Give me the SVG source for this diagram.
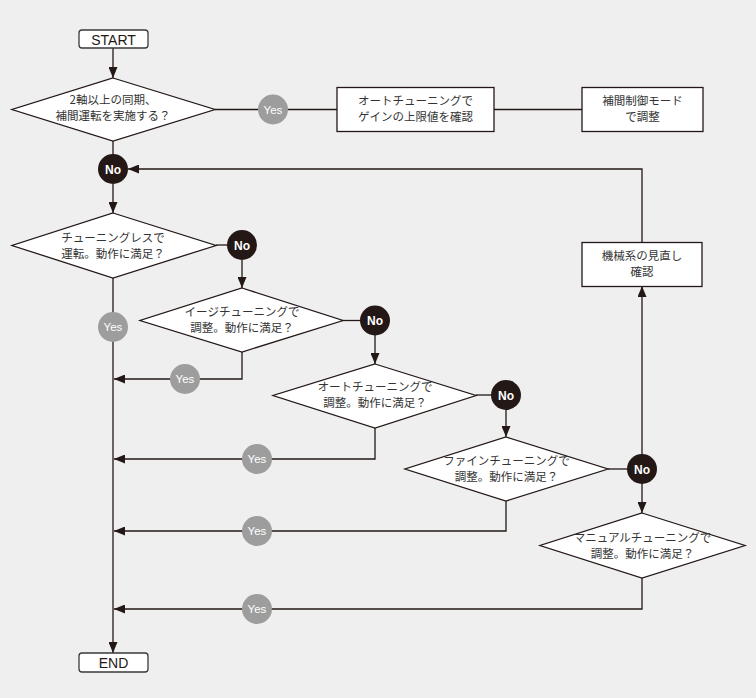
<svg xmlns="http://www.w3.org/2000/svg" width="756" height="698" viewBox="0 0 756 698">
<defs>
<marker id="arr" viewBox="0 0 11 9" refX="11" refY="4.5" markerWidth="11" markerHeight="9" markerUnits="userSpaceOnUse" orient="auto">
<path d="M0 0 L11 4.5 L0 9 Z" fill="#231815"/>
</marker>
<style>
.ln{fill:none;stroke:#231815;stroke-width:1.3}
.shape{fill:#fff;stroke:#231815;stroke-width:1.3}
.term{fill:#fff;stroke:#3a3a3a;stroke-width:1.3}
.t{font-family:"Noto Sans CJK JP","Noto Sans",sans-serif;font-size:11.5px;fill:#333;text-anchor:middle}
.tt{font-family:"Liberation Sans",Arial,sans-serif;font-size:14px;fill:#231815;text-anchor:middle}
.yes{fill:#9d9d9d}
.no{fill:#231815}
.lbl{font-family:"Liberation Sans",Arial,sans-serif;font-size:11.5px;fill:#fff;text-anchor:middle}
.lblb{font-family:"Liberation Sans",Arial,sans-serif;font-size:12px;font-weight:bold;fill:#fff;text-anchor:middle}
</style>
</defs>
<rect width="756" height="698" fill="#efefef"/>
<g id="connectors">
<path class="ln" d="M113 48 V78" marker-end="url(#arr)"/>
<path class="ln" d="M113 141 V155"/>
<path class="ln" d="M113 184 V213" marker-end="url(#arr)"/>
<path class="ln" d="M215 109.5 H337"/>
<path class="ln" d="M494 109.5 H582"/>
<path class="ln" d="M642 242 V169 H128" marker-end="url(#arr)"/>
<path class="ln" d="M216 245 H228"/>
<path class="ln" d="M242 260 V288" marker-end="url(#arr)"/>
<path class="ln" d="M113 278 V653" marker-end="url(#arr)"/>
<path class="ln" d="M242 352 V379 H114" marker-end="url(#arr)"/>
<path class="ln" d="M343 320.5 H361"/>
<path class="ln" d="M375 335 V364" marker-end="url(#arr)"/>
<path class="ln" d="M375 428 V459 H114" marker-end="url(#arr)"/>
<path class="ln" d="M476 395 H492"/>
<path class="ln" d="M506 409 V437" marker-end="url(#arr)"/>
<path class="ln" d="M506 501 V531 H114" marker-end="url(#arr)"/>
<path class="ln" d="M608 469 H628"/>
<path class="ln" d="M642 455 V286" marker-end="url(#arr)"/>
<path class="ln" d="M642 483 V513" marker-end="url(#arr)"/>
<path class="ln" d="M642 578 V609 H114" marker-end="url(#arr)"/>
</g>
<g id="start">
<rect class="term" x="79" y="30" width="69" height="18" rx="3"/>
<text class="tt" x="113.5" y="44.5">START</text>
</g>
<g id="q1">
<polygon class="shape" points="113,78 215,109.5 113,141 12,109.5"/>
<text class="t" x="113" y="104">2軸以上の同期、</text>
<text class="t" x="113" y="120">補間運転を実施する？</text>
</g>
<g id="yes0">
<circle class="yes" cx="273" cy="109.5" r="15"/>
<text class="lbl" x="273" y="113.5">Yes</text>
</g>
<g id="box1">
<rect class="shape" x="337" y="87.5" width="157" height="44"/>
<text class="t" x="415.5" y="105">オートチューニングで</text>
<text class="t" x="415.5" y="121">ゲインの上限値を確認</text>
</g>
<g id="box2">
<rect class="shape" x="582" y="87.5" width="121" height="44"/>
<text class="t" x="642.5" y="105">補間制御モード</text>
<text class="t" x="642.5" y="121">で調整</text>
</g>
<g id="no0">
<circle class="no" cx="113" cy="169" r="15"/>
<text class="lblb" x="113" y="173.5">No</text>
</g>
<g id="q2">
<polygon class="shape" points="113,213 216,245.5 113,278 12,245.5"/>
<text class="t" x="113" y="242">チューニングレスで</text>
<text class="t" x="113" y="258">運転。動作に満足？</text>
</g>
<g id="no1">
<circle class="no" cx="242" cy="245" r="15"/>
<text class="lblb" x="242" y="249.5">No</text>
</g>
<g id="yes1">
<circle class="yes" cx="113" cy="327" r="15"/>
<text class="lbl" x="113" y="331">Yes</text>
</g>
<g id="q3">
<polygon class="shape" points="242,288 343,320.5 242,352 140,320.5"/>
<text class="t" x="242" y="316">イージチューニングで</text>
<text class="t" x="242" y="332">調整。動作に満足？</text>
</g>
<g id="yes2">
<circle class="yes" cx="185" cy="379" r="15"/>
<text class="lbl" x="185" y="383">Yes</text>
</g>
<g id="no2">
<circle class="no" cx="375" cy="320.5" r="15"/>
<text class="lblb" x="375" y="325">No</text>
</g>
<g id="q4">
<polygon class="shape" points="375,364 476,395.5 375,428 273,395.5"/>
<text class="t" x="375" y="391">オートチューニングで</text>
<text class="t" x="375" y="407">調整。動作に満足？</text>
</g>
<g id="yes3">
<circle class="yes" cx="257" cy="459" r="15"/>
<text class="lbl" x="257" y="463">Yes</text>
</g>
<g id="no3">
<circle class="no" cx="506" cy="395" r="15"/>
<text class="lblb" x="506" y="399.5">No</text>
</g>
<g id="q5">
<polygon class="shape" points="506,437 608,469 506,501 405,469"/>
<text class="t" x="506.5" y="465">ファインチューニングで</text>
<text class="t" x="506.5" y="481">調整。動作に満足？</text>
</g>
<g id="yes4">
<circle class="yes" cx="257" cy="531" r="15"/>
<text class="lbl" x="257" y="535">Yes</text>
</g>
<g id="no4">
<circle class="no" cx="642" cy="469" r="15"/>
<text class="lblb" x="642" y="473.5">No</text>
</g>
<g id="box3">
<rect class="shape" x="582" y="242.5" width="120" height="44"/>
<text class="t" x="642" y="260">機械系の見直し</text>
<text class="t" x="642" y="276">確認</text>
</g>
<g id="q6">
<polygon class="shape" points="642,513 745,545.5 642,578 540,545.5"/>
<text class="t" x="642.5" y="542">マニュアルチューニングで</text>
<text class="t" x="642.5" y="558">調整。動作に満足？</text>
</g>
<g id="yes5">
<circle class="yes" cx="257" cy="609" r="15"/>
<text class="lbl" x="257" y="613">Yes</text>
</g>
<g id="end">
<rect class="term" x="79" y="653" width="69" height="19" rx="3"/>
<text class="tt" x="113.5" y="667.5">END</text>
</g>
</svg>
